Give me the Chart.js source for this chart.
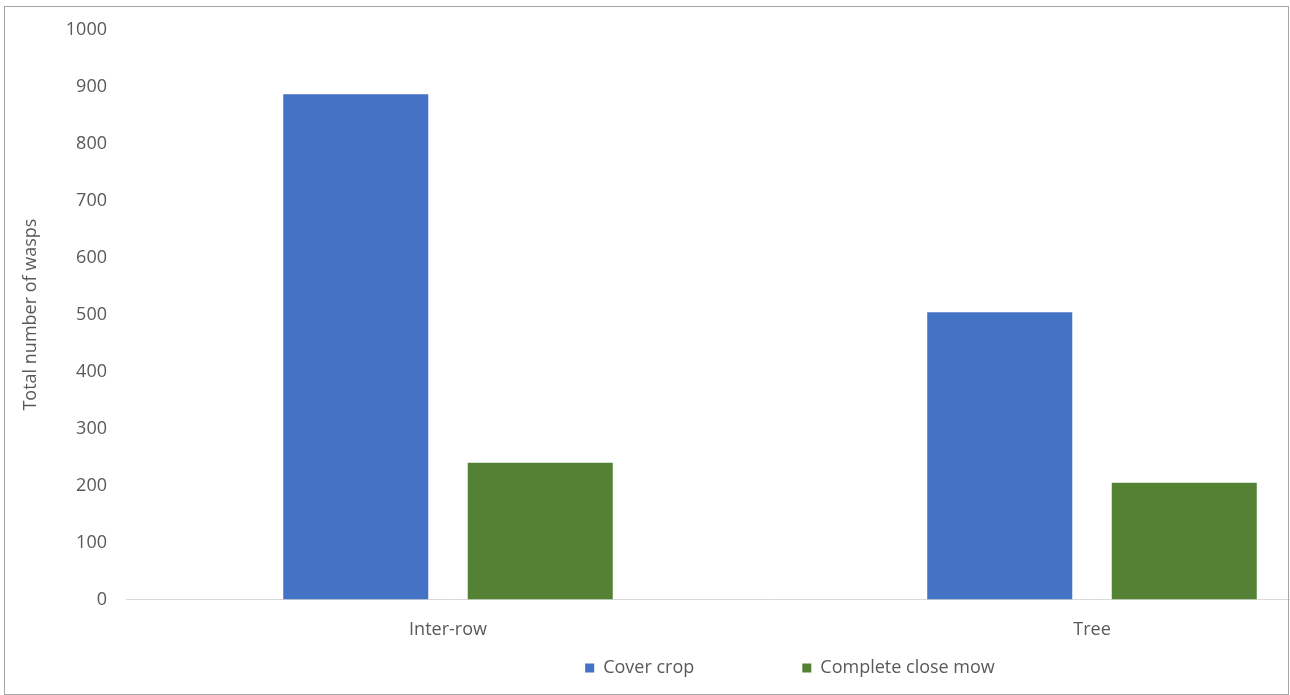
<!DOCTYPE html>
<html>
<head>
<meta charset="utf-8">
<script src="https://cdn.jsdelivr.net/npm/chart.js@4.4.1/dist/chart.umd.min.js"></script>
<style>
    html, body { margin: 0; padding: 0; background: #ffffff; }
    #frame { position: relative; width: 1290px; height: 695px; overflow: hidden; }
    #edge { position: absolute; left: 4px; top: 6px; width: 1283px; height: 687px; border: 1px solid #a6a6a6; pointer-events: none; }
</style>
</head>
<body>
<div id="frame">
    <canvas id="waspChart" width="1580" height="695"></canvas>
    <div id="edge"></div>
</div>
<script>
    // categories and series
    var locations = ["Inter-row", "Tree"];
    var coverCrop = [887, 504];
    var closeMow = [240, 205];
    var seriesNames = ["Cover crop", "Complete close mow"];
    var seriesColors = ["#4472C4", "#548235"];

    var textColor = "#595959";
    var fontFamily = "'Open Sans', sans-serif";
    var fontSize = 18;

    // legend drawn under the axis, centred on the canvas
    var bottomLegend = {
        id: "bottomLegend",
        afterDraw: function (chart) {
            var ctx = chart.ctx;
            var box = 9, boxGap = 9, itemGap = 108;
            ctx.save();
            ctx.font = fontSize + "px " + fontFamily;
            ctx.textBaseline = "middle";
            var widths = chart.data.datasets.map(function (ds) {
                return box + boxGap + ctx.measureText(ds.label).width;
            });
            var total = widths.reduce(function (a, b) { return a + b; }, 0) + itemGap * (widths.length - 1);
            var x = chart.width / 2 - total / 2;
            var y = 668;
            chart.data.datasets.forEach(function (ds, i) {
                ctx.fillStyle = ds.backgroundColor;
                ctx.fillRect(x, y - box / 2, box, box);
                ctx.fillStyle = textColor;
                ctx.fillText(ds.label, x + box + boxGap, y);
                x += widths[i] + itemGap;
            });
            ctx.restore();
        }
    };

    var ctx = document.getElementById("waspChart");

    var waspChart = new Chart(ctx, {
        type: "bar",
        data: {
            labels: locations,
            datasets: [{
                label: seriesNames[0],
                data: coverCrop,
                backgroundColor: seriesColors[0],
                categoryPercentage: 0.573,
                barPercentage: 0.786
            }, {
                label: seriesNames[1],
                data: closeMow,
                backgroundColor: seriesColors[1],
                categoryPercentage: 0.573,
                barPercentage: 0.786
            }]
        },
        options: {
            responsive: false,
            animation: false,
            layout: {
                padding: { top: 27, right: 166, bottom: 34, left: 0 }
            },
            plugins: {
                legend: { display: false },
                tooltip: { enabled: false }
            },
            scales: {
                x: {
                    grid: { display: false, drawTicks: false },
                    border: { display: true, color: "#d9d9d9", width: 1 },
                    ticks: {
                        color: textColor,
                        padding: 20,
                        font: { family: fontFamily, size: fontSize }
                    }
                },
                y: {
                    min: 0,
                    max: 1000,
                    grid: { display: false, drawTicks: false },
                    border: { display: false },
                    ticks: {
                        stepSize: 100,
                        color: textColor,
                        padding: 19,
                        font: { family: fontFamily, size: fontSize },
                        callback: function (value) { return value; }
                    },
                    title: {
                        display: true,
                        text: "Total number of wasps",
                        color: textColor,
                        padding: { top: 20, bottom: 0 },
                        font: { family: fontFamily, size: fontSize }
                    },
                    afterFit: function (scale) {
                        scale.width = 126;
                    }
                }
            }
        },
        plugins: [bottomLegend]
    });
</script>
</body>
</html>
